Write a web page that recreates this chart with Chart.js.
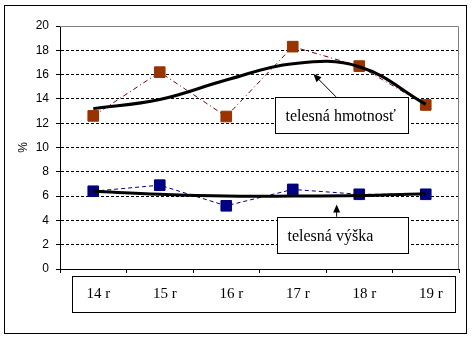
<!DOCTYPE html>
<html>
<head>
<meta charset="utf-8">
<script src="https://cdn.jsdelivr.net/npm/chart.js@4"></script>
<style>
html, body { margin: 0; padding: 0; background: #fff; }
</style>
</head>
<body>
<canvas id="telesneChart" width="474" height="339"></canvas>
<script>
// hodnoty odcitane z grafu (%)
const ROKY = ['14 r', '15 r', '16 r', '17 r', '18 r', '19 r'];
const HMOTNOST = [12.6, 16.2, 12.55, 18.3, 16.7, 13.5];
const VYSKA = [6.4, 6.9, 5.2, 6.55, 6.15, 6.15];
const TREND_HMOTNOST = [13.2, 13.95, 15.55, 16.9, 16.65, 13.55];
const TREND_VYSKA = [6.4, 6.15, 6.0, 6.0, 6.05, 6.2];
const Y_MIN = 0, Y_MAX = 20, Y_KROK = 2;

// popisky so sipkami (v jednotkach osi)
const POPISY = [
  { text: 'telesná hmotnosť', x1: 2.74, x2: 4.74, yTop: 14.17, yBot: 11.23, from: [3.65, 14.17], to: [3.31, 16.05] },
  { text: 'telesná výška', x1: 2.76, x2: 4.74, yTop: 4.3, yBot: 1.34, from: [3.66, 4.3], to: [3.66, 5.3] }
];

const ramcek = {
  id: 'ramcek',
  beforeDatasetsDraw(chart) {
    const { ctx, chartArea: a } = chart;
    ctx.save();
    ctx.strokeStyle = '#808080';
    ctx.lineWidth = 1;
    ctx.beginPath();
    ctx.moveTo(a.left, a.top + 0.5);
    ctx.lineTo(a.right - 0.5, a.top + 0.5);
    ctx.lineTo(a.right - 0.5, a.bottom);
    ctx.stroke();
    ctx.restore();
  },
  afterDatasetsDraw(chart) {
    const { ctx, chartArea: a, scales: { x, y } } = chart;
    ctx.save();
    POPISY.forEach(p => {
      const l = Math.round(x.getPixelForValue(p.x1)) + 0.5;
      const r = Math.round(x.getPixelForValue(p.x2)) + 0.5;
      const t = Math.round(y.getPixelForValue(p.yTop)) + 0.5;
      const b = Math.round(y.getPixelForValue(p.yBot)) + 0.5;
      ctx.fillStyle = '#fff';
      ctx.fillRect(l, t, r - l, b - t);
      ctx.strokeStyle = '#000';
      ctx.lineWidth = 1;
      ctx.strokeRect(l, t, r - l, b - t);
      ctx.fillStyle = '#000';
      ctx.font = '16px "Liberation Serif"';
      ctx.textBaseline = 'middle';
      ctx.textAlign = 'left';
      ctx.fillText(p.text, l + 10, (t + b) / 2 + 1);
      // sipka
      const fx = x.getPixelForValue(p.from[0]), fy = y.getPixelForValue(p.from[1]);
      const tx = x.getPixelForValue(p.to[0]), ty = y.getPixelForValue(p.to[1]);
      const ang = Math.atan2(ty - fy, tx - fx);
      ctx.beginPath();
      ctx.moveTo(fx, fy);
      ctx.lineTo(tx - 6 * Math.cos(ang), ty - 6 * Math.sin(ang));
      ctx.stroke();
      ctx.beginPath();
      ctx.moveTo(tx, ty);
      ctx.lineTo(tx - 8 * Math.cos(ang) + 3.5 * Math.sin(ang), ty - 8 * Math.sin(ang) - 3.5 * Math.cos(ang));
      ctx.lineTo(tx - 8 * Math.cos(ang) - 3.5 * Math.sin(ang), ty - 8 * Math.sin(ang) + 3.5 * Math.cos(ang));
      ctx.closePath();
      ctx.fill();
    });
    // ramcek okolo popisov osi x
    ctx.strokeStyle = '#000';
    ctx.lineWidth = 1;
    ctx.strokeRect(a.left + 12.5, a.bottom + 7.5, a.right - a.left - 16, 36);
    ctx.restore();
  },
  afterDraw(chart) {
    const ctx = chart.ctx;
    ctx.save();
    ctx.strokeStyle = '#000';
    ctx.lineWidth = 1;
    ctx.strokeRect(4.5, 5.5, 462, 328);
    ctx.restore();
  }
};

new Chart(document.getElementById('telesneChart'), {
  type: 'line',
  data: {
    labels: ROKY,
    datasets: [
      {
        label: 'trend hmotnosť',
        data: TREND_HMOTNOST,
        borderColor: '#000',
        borderWidth: 3,
        pointRadius: 0,
        tension: 0.4,
        fill: false,
        order: 0
      },
      {
        label: 'trend výška',
        data: TREND_VYSKA,
        borderColor: '#000',
        borderWidth: 3,
        pointRadius: 0,
        tension: 0.4,
        fill: false,
        order: 0
      },
      {
        label: 'telesná hmotnosť',
        data: HMOTNOST,
        borderColor: '#800000',
        borderWidth: 1,
        borderDash: [5, 3, 1, 3],
        pointStyle: 'rect',
        pointRadius: 7.5,
        pointBackgroundColor: '#993300',
        pointBorderColor: '#993300',
        pointBorderWidth: 1,
        tension: 0,
        fill: false,
        order: 1
      },
      {
        label: 'telesná výška',
        data: VYSKA,
        borderColor: '#000080',
        borderWidth: 1,
        borderDash: [4, 3],
        pointStyle: 'rect',
        pointRadius: 7.5,
        pointBackgroundColor: '#000080',
        pointBorderColor: '#000080',
        pointBorderWidth: 1,
        tension: 0,
        fill: false,
        order: 1
      }
    ]
  },
  options: {
    responsive: false,
    animation: false,
    layout: { padding: { left: 0, top: 26, right: 15, bottom: 0 } },
    plugins: {
      legend: { display: false },
      tooltip: { enabled: false }
    },
    scales: {
      x: {
        type: 'category',
        offset: true,
        border: { display: true, color: '#000', width: 1 },
        grid: {
          offset: true,
          drawOnChartArea: false,
          drawTicks: true,
          tickLength: 4,
          color: '#000'
        },
        ticks: {
          color: '#000',
          font: { family: '"Liberation Serif"', size: 15 },
          padding: 12,
          labelOffset: 5,
          maxRotation: 0,
          autoSkip: false
        },
        afterFit(scale) { scale.height = 70; }
      },
      y: {
        min: Y_MIN,
        max: Y_MAX,
        border: { display: true, color: '#000', width: 1, dash: [3, 2] },
        grid: {
          color: c => (c.tick && (c.tick.value === Y_MAX || c.tick.value === Y_MIN)) ? 'rgba(0,0,0,0)' : '#000',
          tickLength: 4,
          tickColor: '#000',
          tickBorderDash: []
        },
        ticks: {
          stepSize: Y_KROK,
          color: '#000',
          font: { family: '"Liberation Sans"', size: 12 },
          padding: 7
        },
        title: {
          display: true,
          text: '%',
          color: '#000',
          font: { family: '"Liberation Sans"', size: 12 },
          padding: { top: 16, bottom: 0 }
        },
        afterFit(scale) { scale.width = 60; }
      }
    }
  },
  plugins: [ramcek]
});
</script>
</body>
</html>
